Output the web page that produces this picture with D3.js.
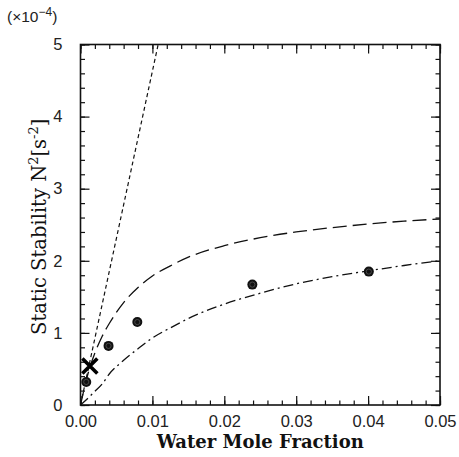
<!DOCTYPE html>
<html>
<head>
<meta charset="utf-8">
<script src="https://cdn.jsdelivr.net/npm/d3@7"></script>
<style>
  body { margin: 0; background: #fff; }
  .tick text { font-family: "Liberation Sans", Arial, sans-serif; font-size: 16.5px; fill: #222; }
  .axis-title { font-family: "DejaVu Serif", serif; fill: #111; }
</style>
</head>
<body>
<svg id="chart" width="459" height="457"></svg>
<script>
// SETUP: plot frame
const frame = { left: 80.5, right: 440, top: 44.5, bottom: 405 };

// DATA
const xTicks = [0, 0.01, 0.02, 0.03, 0.04, 0.05];
const yTicks = [0, 1, 2, 3, 4, 5];

// short dashed straight line
const steepX = [0, 0.0108];
const steepY = [0, 5];

// long dashed curve
const longX = [0, 0.001, 0.002, 0.003, 0.004, 0.006, 0.008, 0.010, 0.0125, 0.015, 0.020, 0.025, 0.030, 0.035, 0.040, 0.045, 0.050];
const longY = [0, 0.42, 0.72, 0.95, 1.13, 1.42, 1.63, 1.79, 1.93, 2.05, 2.21, 2.32, 2.40, 2.46, 2.51, 2.55, 2.58];

// dash-dot curve
const dotX = [0, 0.001, 0.002, 0.003, 0.004, 0.006, 0.008, 0.010, 0.0125, 0.015, 0.020, 0.025, 0.030, 0.035, 0.040, 0.045, 0.050];
const dotY = [0, 0.09, 0.19, 0.29, 0.43, 0.62, 0.78, 0.93, 1.07, 1.20, 1.40, 1.55, 1.68, 1.78, 1.86, 1.935, 2.0];

// measured points
const ptX = [0.0008, 0.0039, 0.0079, 0.0239, 0.0401];
const ptY = [0.32, 0.82, 1.15, 1.67, 1.85];

// cross marker
const crossX = 0.0013, crossY = 0.54;

const svg = d3.select("#chart");

// SCALES
const x = d3.scaleLinear().domain([0, 0.05]).range([frame.left, frame.right]);
const y = d3.scaleLinear().domain([0, 5]).range([frame.bottom, frame.top]);

// clip for curves
svg.append("clipPath").attr("id", "clip")
  .append("rect")
  .attr("x", frame.left).attr("y", frame.top)
  .attr("width", frame.right - frame.left).attr("height", frame.bottom - frame.top);

// AXES - minor ticks first, then major with labels
const xMinor = d3.range(0, 0.0501, 0.002);
const yMinor = d3.range(0, 5.01, 0.2);

function minor(axis) { return axis.tickFormat("").tickSizeOuter(0).tickSizeInner(-4.5); }
function major(axis) { return axis.tickSizeOuter(0).tickSizeInner(-9).tickPadding(14); }

svg.append("g").attr("transform", `translate(0,${frame.bottom})`)
  .call(minor(d3.axisBottom(x).tickValues(xMinor)));
svg.append("g").attr("transform", `translate(0,${frame.top})`)
  .call(minor(d3.axisTop(x).tickValues(xMinor)));
svg.append("g").attr("transform", `translate(${frame.left},0)`)
  .call(minor(d3.axisLeft(y).tickValues(yMinor)));
svg.append("g").attr("transform", `translate(${frame.right},0)`)
  .call(minor(d3.axisRight(y).tickValues(yMinor)));

svg.append("g").attr("class", "xaxis").attr("transform", `translate(0,${frame.bottom})`)
  .call(major(d3.axisBottom(x).tickValues(xTicks).tickFormat(d3.format(".2f"))));
svg.append("g").attr("transform", `translate(0,${frame.top})`)
  .call(major(d3.axisTop(x).tickValues(xTicks).tickFormat("")));
svg.append("g").attr("class", "yaxis").attr("transform", `translate(${frame.left},0)`)
  .call(major(d3.axisLeft(y).tickValues(yTicks).tickFormat(d3.format("d"))).tickPadding(18));
svg.append("g").attr("transform", `translate(${frame.right},0)`)
  .call(major(d3.axisRight(y).tickValues(yTicks).tickFormat("")));

svg.selectAll(".domain").remove();
svg.selectAll(".tick line").attr("stroke", "#111").attr("stroke-width", 1.2);
svg.select(".xaxis").selectAll("text").attr("dy", "0.5em");

// frame
svg.append("rect")
  .attr("x", frame.left).attr("y", frame.top)
  .attr("width", frame.right - frame.left).attr("height", frame.bottom - frame.top)
  .attr("fill", "none").attr("stroke", "#111").attr("stroke-width", 1.6);

// LINES
const line = d3.line().x(d => x(d[0])).y(d => y(d[1])).curve(d3.curveMonotoneX);
const g = svg.append("g").attr("clip-path", "url(#clip)");

g.append("path").datum(d3.zip(steepX, steepY))
  .attr("d", line).attr("fill", "none").attr("stroke", "#111")
  .attr("stroke-width", 1.2).attr("stroke-dasharray", "4,3");

g.append("path").datum(d3.zip(longX, longY))
  .attr("d", line).attr("fill", "none").attr("stroke", "#111")
  .attr("stroke-width", 1.3).attr("stroke-dasharray", "14,6");

g.append("path").datum(d3.zip(dotX, dotY))
  .attr("d", line).attr("fill", "none").attr("stroke", "#111")
  .attr("stroke-width", 1.3).attr("stroke-dasharray", "10,4,2,4");

// POINTS
const pts = d3.zip(ptX, ptY);
svg.selectAll("circle.pt").data(pts).enter().append("circle")
  .attr("class", "pt")
  .attr("cx", d => x(d[0])).attr("cy", d => y(d[1]))
  .attr("r", 5).attr("fill", "#111");
svg.selectAll("circle.ring").data(pts).enter().append("circle")
  .attr("class", "ring")
  .attr("cx", d => x(d[0])).attr("cy", d => y(d[1]))
  .attr("r", 2.6).attr("fill", "none").attr("stroke", "#555").attr("stroke-width", 0.8);

// CROSS
const cx = x(crossX), cy = y(crossY), s = 7.5;
svg.append("path")
  .attr("d", `M${cx - s},${cy - s}L${cx + s},${cy + s}M${cx - s},${cy + s}L${cx + s},${cy - s}`)
  .attr("stroke", "#000").attr("stroke-width", 3.6);

// LABELS
svg.append("text")
  .attr("x", 7).attr("y", 22)
  .attr("font-family", "Liberation Sans, Arial, sans-serif")
  .attr("font-size", 15.5).attr("fill", "#222")
  .html('(×10<tspan dy="-6" font-size="12">−4</tspan><tspan dy="6">)</tspan>');

svg.append("text")
  .attr("class", "axis-title")
  .attr("x", (frame.left + frame.right) / 2).attr("y", 448)
  .attr("text-anchor", "middle")
  .attr("font-size", 18).attr("font-weight", "bold")
  .text("Water Mole Fraction");

svg.append("text")
  .attr("class", "axis-title")
  .attr("transform", `translate(46,${(frame.top + frame.bottom) / 2 + 2}) rotate(-90)`)
  .attr("text-anchor", "middle")
  .attr("font-size", 19.5)
  .html('Static Stability N<tspan dy="-8" font-size="13">2</tspan><tspan dy="8">[s</tspan><tspan dy="-8" font-size="13">-2</tspan><tspan dy="8">]</tspan>');
</script>
</body>
</html>
